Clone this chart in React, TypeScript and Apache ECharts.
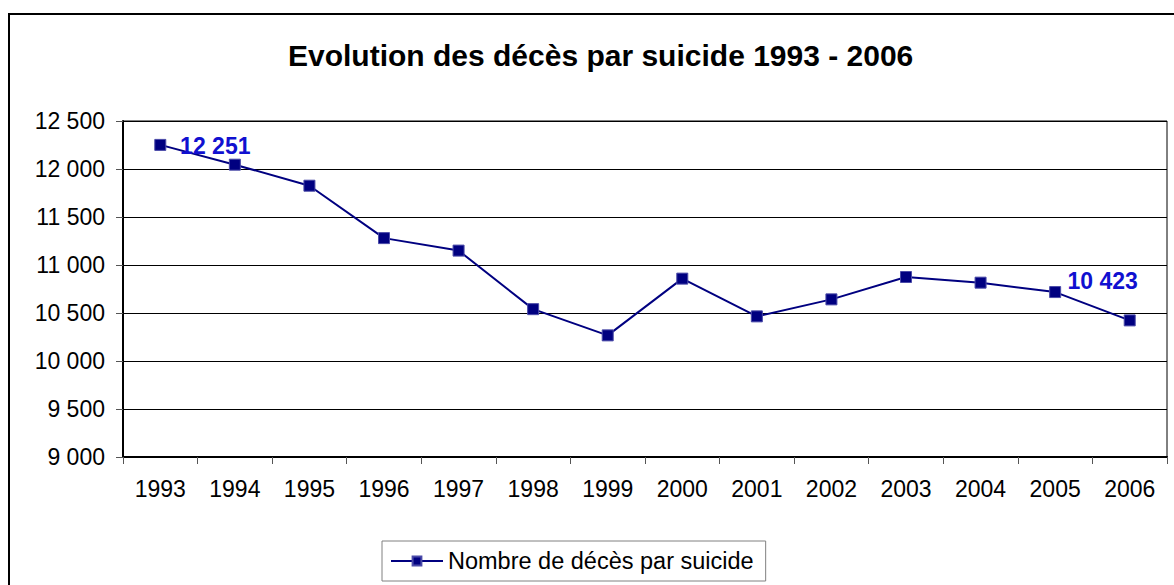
import React, { useEffect, useRef } from "react";
import * as echarts from "echarts";

const years = ["1993", "1994", "1995", "1996", "1997", "1998", "1999", "2000", "2001", "2002", "2003", "2004", "2005", "2006"];
const deaths = [12251, 12045, 11826, 11280, 11150, 10540, 10267, 10858, 10465, 10642, 10875, 10816, 10718, 10423];
const seriesName = "Nombre de décès par suicide";
const titleText = "Evolution des décès par suicide 1993 - 2006";

const FONT = "'Liberation Sans', Arial, sans-serif";
const fmt = (v: number) => String(v).replace(/\B(?=(\d{3})+(?!\d))/g, " ");

export default function App() {
  const ref = useRef<HTMLDivElement>(null);
  useEffect(() => {
    if (!ref.current) return;
    const chart = echarts.init(ref.current, undefined, { renderer: "svg" });
    const last = deaths.length - 1;
    const data = deaths.map((v, i) => {
      if (i === 0) {
        return { value: v, label: { show: true, position: "inside", offset: [55, 1] } };
      }
      if (i === last) {
        return { value: v, label: { show: true, position: "inside", offset: [-27, -39] } };
      }
      return v;
    });
    chart.setOption({
      animation: false,
      backgroundColor: "#ffffff",
      title: {
        text: titleText,
        left: 283,
        top: 35,
        textStyle: { fontFamily: FONT, fontSize: 30, fontWeight: "bold", color: "#000" },
      },
      graphic: [
        {
          type: "rect",
          shape: { x: 9, y: 14, width: 1200, height: 600 },
          style: { fill: "none", stroke: "#000", lineWidth: 2 },
          silent: true,
        },
      ],
      legend: {
        left: 382,
        top: 541,
        orient: "horizontal",
        padding: [8, 12, 8, 8],
        borderColor: "#808080",
        borderWidth: 1,
        itemWidth: 52,
        itemHeight: 11,
        itemGap: 5,
        textStyle: { fontFamily: FONT, fontSize: 23.5, color: "#000" },
        data: [seriesName],
      },
      grid: {
        left: 123,
        right: 7,
        top: 121,
        bottom: 128,
        show: true,
        borderColor: "#000",
        borderWidth: 1,
        containLabel: false,
      },
      xAxis: {
        type: "category",
        data: years,
        boundaryGap: true,
        axisLine: { lineStyle: { color: "#000", width: 2 } },
        axisTick: { show: true, alignWithLabel: false, length: 7, lineStyle: { color: "#555" } },
        axisLabel: { fontFamily: FONT, fontSize: 23, color: "#000", margin: 20 },
        splitLine: { show: false },
      },
      yAxis: {
        type: "value",
        min: 9000,
        max: 12500,
        interval: 500,
        axisLine: { show: true, lineStyle: { color: "#000", width: 2 } },
        axisTick: { show: true, length: 7, lineStyle: { color: "#555" } },
        axisLabel: { fontFamily: FONT, fontSize: 23, color: "#000", margin: 18, formatter: (v: number) => fmt(v) },
        splitLine: { show: true, lineStyle: { color: "#000", width: 1 } },
      },
      series: [
        {
          name: seriesName,
          type: "line",
          data,
          symbol: "rect",
          symbolSize: 11,
          lineStyle: { color: "#000080", width: 2 },
          itemStyle: { color: "#000080", borderColor: "#4a4aa8", borderWidth: 1 },
          label: {
            show: false,
            fontFamily: FONT,
            fontSize: 23,
            fontWeight: "bold",
            color: "#1010d0",
            formatter: (p: any) => fmt(p.value),
          },
        },
      ],
    });
    return () => chart.dispose();
  }, []);
  return <div ref={ref} style={{ position: "fixed", left: 0, top: 0, width: 1174, height: 585 }} />;
}
